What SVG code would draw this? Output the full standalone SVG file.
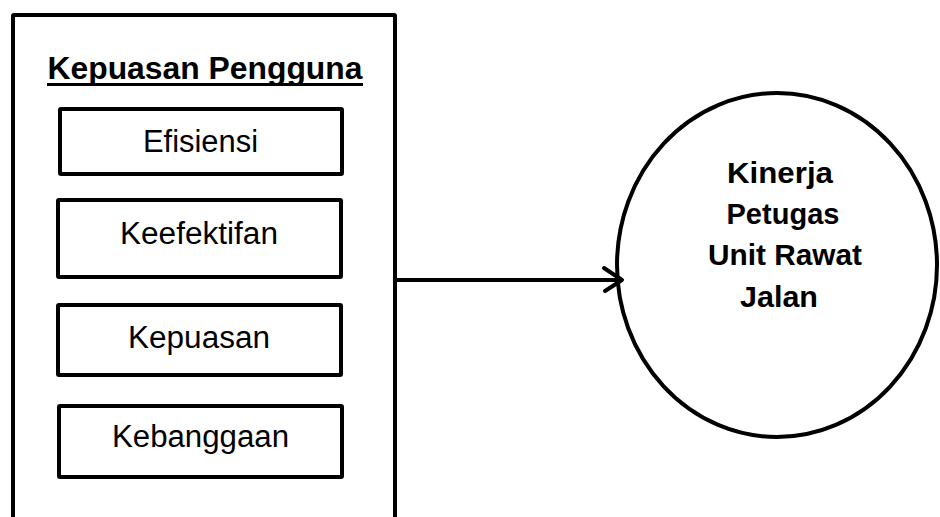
<svg xmlns="http://www.w3.org/2000/svg" width="940" height="517" viewBox="0 0 940 517">
  <style>
    .box { fill: #ffffff; stroke: #000000; stroke-width: 4; }
    .lbl { font-family: "Liberation Sans", Arial, sans-serif; font-size: 31px; fill: #000000; text-anchor: middle; }
    .title { font-weight: bold; font-size: 31.5px; }
    .circ { font-weight: bold; font-size: 30px; }
    .conn { stroke: #000000; stroke-width: 4; fill: none; stroke-linecap: round; stroke-linejoin: round; }
  </style>
  <rect width="940" height="517" fill="#ffffff"/>
  <g id="kepuasan-pengguna">
    <rect class="box" x="13" y="15" width="382" height="530" rx="1"/>
    <text class="lbl title" x="205" y="79" textLength="315" lengthAdjust="spacingAndGlyphs">Kepuasan Pengguna</text>
    <line x1="47" y1="84.5" x2="363" y2="84.5" stroke="#000000" stroke-width="3"/>
  </g>
  <g id="efisiensi">
    <rect class="box" x="60" y="109" width="282" height="65" rx="1"/>
    <text class="lbl" x="200.5" y="152" textLength="115" lengthAdjust="spacingAndGlyphs">Efisiensi</text>
  </g>
  <g id="keefektifan">
    <rect class="box" x="58" y="200" width="283" height="77" rx="1"/>
    <text class="lbl" x="199" y="244" textLength="158" lengthAdjust="spacingAndGlyphs">Keefektifan</text>
  </g>
  <g id="kepuasan">
    <rect class="box" x="58" y="305" width="283" height="70" rx="1"/>
    <text class="lbl" x="199" y="348" textLength="142" lengthAdjust="spacingAndGlyphs">Kepuasan</text>
  </g>
  <g id="kebanggaan">
    <rect class="box" x="59" y="406" width="283" height="71" rx="1"/>
    <text class="lbl" x="200.5" y="447" textLength="177" lengthAdjust="spacingAndGlyphs">Kebanggaan</text>
  </g>
  <g id="kinerja">
    <ellipse class="box" cx="777" cy="265" rx="160" ry="172"/>
    <text class="lbl circ" x="780" y="183" textLength="106" lengthAdjust="spacingAndGlyphs">Kinerja</text>
    <text class="lbl circ" x="783" y="224" textLength="113" lengthAdjust="spacingAndGlyphs">Petugas</text>
    <text class="lbl circ" x="785" y="265" textLength="154" lengthAdjust="spacingAndGlyphs">Unit Rawat</text>
    <text class="lbl circ" x="779" y="307" textLength="78" lengthAdjust="spacingAndGlyphs">Jalan</text>
  </g>
  <g id="connectors">
    <line class="conn" x1="395" y1="280" x2="621" y2="280"/>
    <polyline class="conn" points="604,268 622,280 605,291"/>
  </g>
</svg>
